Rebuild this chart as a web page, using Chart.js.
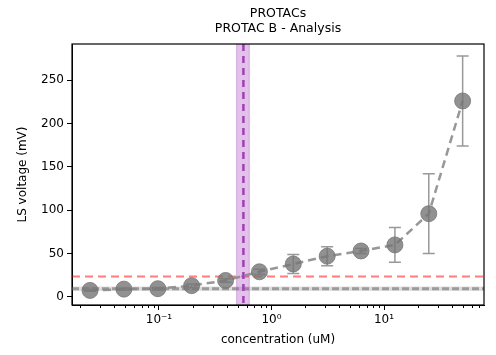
<!DOCTYPE html>
<html>
<head>
<meta charset="utf-8">
<script src="https://cdn.jsdelivr.net/npm/chart.js@4.4.1/dist/chart.umd.min.js"></script>
<style>
    html, body { margin: 0; padding: 0; background: #fff; }
</style>
</head>
<body>
<canvas id="myChart" width="496" height="355"></canvas>
<script>
// 데이터
const concentration = [0.0244, 0.0488, 0.0977, 0.195, 0.391, 0.781, 1.5625, 3.125, 6.25, 12.5, 25, 50];
const voltage = [7.5, 9, 9.5, 13, 19, 29, 38, 47, 53, 60, 96, 226];
const voltageErr = [1, 1, 1.5, 2, 2, 3, 11, 11, 3, 20, 46, 52];
const yTicks = [0, 50, 100, 150, 200, 250];
const xTickLabels = { 0.1: "10⁻¹", 1: "10⁰", 10: "10¹" };
const threshold = 23.5;
const baseline = 9.5;
const baselineBand = [7, 12];
const ec50 = 0.563;
const ec50Band = [0.49, 0.635];

const FONT = "'DejaVu Sans', sans-serif";

// 보조선, 에러바, 테두리
const extras = {
    id: "extras",
    beforeDatasetsDraw(chart) {
        const ctx = chart.ctx;
        const x = chart.scales.x, y = chart.scales.y;
        const a = chart.chartArea;
        ctx.save();
        ctx.beginPath();
        ctx.rect(a.left, a.top, a.right - a.left, a.bottom - a.top);
        ctx.clip();

        // baseline band
        ctx.fillStyle = "rgba(128,128,128,0.28)";
        const b1 = y.getPixelForValue(baselineBand[1]), b0 = y.getPixelForValue(baselineBand[0]);
        ctx.fillRect(a.left, b1, a.right - a.left, b0 - b1);
        ctx.strokeStyle = "rgba(150,150,150,0.9)";
        ctx.lineWidth = 3;
        ctx.setLineDash([7, 3]);
        ctx.beginPath();
        ctx.moveTo(a.left, y.getPixelForValue(baseline));
        ctx.lineTo(a.right, y.getPixelForValue(baseline));
        ctx.stroke();

        // threshold
        ctx.strokeStyle = "rgba(255,70,70,0.7)";
        ctx.lineWidth = 2;
        ctx.setLineDash([8, 5]);
        ctx.beginPath();
        ctx.moveTo(a.left, y.getPixelForValue(threshold));
        ctx.lineTo(a.right, y.getPixelForValue(threshold));
        ctx.stroke();

        // ec50 band
        const e0 = x.getPixelForValue(ec50Band[0]), e1 = x.getPixelForValue(ec50Band[1]);
        ctx.setLineDash([]);
        ctx.fillStyle = "rgba(170,80,190,0.35)";
        ctx.fillRect(e0, a.top, e1 - e0, a.bottom - a.top);
        ctx.strokeStyle = "rgba(170,80,190,0.4)";
        ctx.lineWidth = 1;
        ctx.strokeRect(e0, a.top - 2, e1 - e0, a.bottom - a.top + 4);
        ctx.strokeStyle = "#a040b4";
        ctx.lineWidth = 2.5;
        ctx.setLineDash([7, 5]);
        ctx.beginPath();
        ctx.moveTo(x.getPixelForValue(ec50), a.top);
        ctx.lineTo(x.getPixelForValue(ec50), a.bottom);
        ctx.stroke();

        // 에러바
        ctx.setLineDash([]);
        ctx.strokeStyle = "#999";
        ctx.lineWidth = 1.5;
        concentration.forEach(function (c, i) {
            const px = x.getPixelForValue(c);
            const top = y.getPixelForValue(voltage[i] + voltageErr[i]);
            const bot = y.getPixelForValue(voltage[i] - voltageErr[i]);
            ctx.beginPath();
            ctx.moveTo(px, top); ctx.lineTo(px, bot);
            ctx.moveTo(px - 6, top); ctx.lineTo(px + 6, top);
            ctx.moveTo(px - 6, bot); ctx.lineTo(px + 6, bot);
            ctx.stroke();
        });
        ctx.restore();
    },
    afterDraw(chart) {
        const ctx = chart.ctx;
        const a = chart.chartArea;
        const x = chart.scales.x;
        ctx.save();
        // minor ticks
        ctx.strokeStyle = "#000";
        ctx.lineWidth = 1;
        x.ticks.forEach(function (t) {
            if (xTickLabels[t.value]) return;
            const px = Math.round(x.getPixelForValue(t.value)) + 0.5;
            ctx.beginPath();
            ctx.moveTo(px, a.bottom);
            ctx.lineTo(px, a.bottom + 3);
            ctx.stroke();
        });
        // 테두리
        ctx.lineWidth = 1.2;
        ctx.strokeRect(a.left, a.top, a.right - a.left, a.bottom - a.top);
        ctx.restore();
    }
};

window.onload = function () {
    new Chart(document.getElementById("myChart").getContext("2d"), {
        type: "line",
        data: {
            datasets: [{
                data: concentration.map(function (c, i) { return { x: c, y: voltage[i] }; }),
                borderColor: "rgba(140,140,140,0.9)",
                borderWidth: 2.5,
                borderDash: [8, 5],
                pointRadius: 8,
                pointBackgroundColor: "rgba(118,118,118,0.8)",
                pointBorderColor: "rgba(118,118,118,0.8)",
                pointBorderWidth: 1,
                tension: 0,
            }],
        },
        options: {
            responsive: false,
            animation: false,
            layout: { padding: { left: 0, right: 12, top: 0, bottom: 0 } },
            plugins: {
                legend: { display: false },
                tooltip: { enabled: false },
                title: {
                    display: true,
                    fullSize: false,
                    text: ["PROTACs", "PROTAC B - Analysis"],
                    color: "#000",
                    font: { family: FONT, size: 12.5, weight: "normal", lineHeight: 1.2 },
                    padding: { top: 6, bottom: 8 },
                },
            },
            scales: {
                x: {
                    type: "logarithmic",
                    min: 0.01687,
                    max: 77.4,
                    afterFit: function (scale) { scale.height = 50; },
                    afterBuildTicks: function (scale) {
                        const ticks = [];
                        for (let e = -2; e <= 1; e++) {
                            for (let m = 1; m <= 9; m++) {
                                const v = parseFloat((m * Math.pow(10, e)).toPrecision(3));
                                if (v >= scale.min && v <= scale.max) ticks.push({ value: v });
                            }
                        }
                        scale.ticks = ticks;
                    },
                    ticks: {
                        autoSkip: false,
                        maxRotation: 0,
                        color: "#000",
                        padding: 3,
                        font: { family: FONT, size: 12 },
                        callback: function (value) { return xTickLabels[value] || ""; },
                    },
                    grid: {
                        drawOnChartArea: false,
                        tickLength: 5,
                        tickColor: function (c) { return c.tick && xTickLabels[c.tick.value] ? "#000" : "rgba(0,0,0,0)"; },
                    },
                    border: { color: "#000" },
                    title: {
                        display: true,
                        text: "concentration (uM)",
                        color: "#000",
                        font: { family: FONT, size: 12 },
                        padding: { top: 4, bottom: 8 },
                    },
                },
                y: {
                    min: -9.3,
                    max: 291.7,
                    afterFit: function (scale) { scale.width = 72; },
                    afterBuildTicks: function (scale) {
                        scale.ticks = yTicks.map(function (v) { return { value: v }; });
                    },
                    ticks: {
                        color: "#000",
                        padding: 3,
                        font: { family: FONT, size: 12 },
                    },
                    grid: { drawOnChartArea: false, tickLength: 5, tickColor: "#000" },
                    border: { color: "#000" },
                    title: {
                        display: true,
                        text: "LS voltage (mV)",
                        color: "#000",
                        font: { family: FONT, size: 12 },
                        padding: { top: 16, bottom: 0 },
                    },
                },
            },
        },
        plugins: [extras],
    });
};
</script>
</body>
</html>
